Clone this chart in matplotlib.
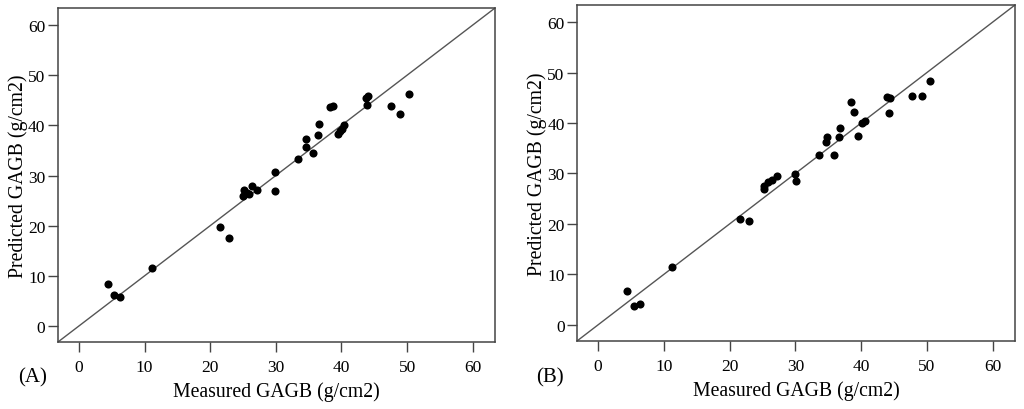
import matplotlib
matplotlib.use("Agg")
import matplotlib.pyplot as plt

# Panel A data
measured_a = [4.4, 5.4, 6.3, 11.2, 21.5, 22.8, 25.05, 25.2, 25.6, 25.9, 26.3, 27.1,
              29.85, 29.95, 33.45, 34.55, 34.65, 35.7, 36.4, 36.55, 38.2, 38.7,
              39.45, 39.8, 40.05, 40.45, 43.75, 43.95, 44.05, 47.5, 48.85, 50.3]
predicted_a = [8.4, 6.1, 5.7, 11.6, 19.8, 17.6, 25.95, 27.1, 26.6, 26.4, 28.0, 27.15,
               30.75, 27.0, 33.3, 35.6, 37.3, 34.45, 38.1, 40.3, 43.75, 43.9,
               38.25, 38.9, 39.3, 40.0, 45.5, 44.1, 45.95, 43.9, 42.3, 46.25]

# Panel B data
measured_b = [4.4, 5.4, 6.4, 11.2, 21.6, 22.9, 25.2, 25.3, 25.9, 26.4, 27.2,
              30.0, 30.1, 33.6, 34.6, 34.8, 35.9, 36.6, 36.75, 38.4, 38.9,
              39.6, 40.1, 40.65, 43.95, 44.4, 44.25, 47.8, 49.2, 50.5]
predicted_b = [6.7, 3.7, 4.05, 11.5, 20.9, 20.6, 27.55, 26.9, 28.35, 28.75, 29.55,
               29.95, 28.5, 33.7, 36.3, 37.2, 33.6, 37.2, 39.05, 44.2, 42.1,
               37.35, 40.1, 40.4, 45.15, 45.05, 42.0, 45.45, 45.45, 48.3]

ticks = [0, 10, 20, 30, 40, 50, 60]
panel_labels = ["(A)", "(B)"]
xlabel = "Measured GAGB (g/cm2)"
ylabel = "Predicted GAGB (g/cm2)"

plt.rcParams['font.family'] = ['Liberation Serif', 'DejaVu Serif']

fig = plt.figure(figsize=(10.24, 4.10), dpi=100)
rects = [[0.0566, 0.1634, 0.4268, 0.8146], [0.5635, 0.1659, 0.4277, 0.8195]]
data = [(measured_a, predicted_a), (measured_b, predicted_b)]
lims = (-3.2, 63.4)
label_x = [0.018, 0.524]

for i, (rect, (mx, py)) in enumerate(zip(rects, data)):
    ax = fig.add_axes(rect)
    ax.plot(lims, lims, color='#555555', lw=1.0, zorder=1)
    ax.scatter(mx, py, s=34, color='black', zorder=2, linewidths=0)
    ax.set_xlim(lims)
    ax.set_ylim(lims)
    ax.set_xticks(ticks)
    ax.set_yticks(ticks)
    ax.tick_params(direction='out', length=7, width=1.0, color='#444444',
                   labelsize=12.5)
    ax.tick_params(axis='x', pad=5)
    ax.tick_params(axis='y', pad=2)
    for s in ax.spines.values():
        s.set_color('#444444')
        s.set_linewidth(1.1)
    ax.set_xlabel(xlabel, fontsize=14.2, labelpad=5)
    ax.set_ylabel(ylabel, fontsize=14.2, labelpad=0)
    fig.text(label_x[i], 0.078, panel_labels[i], fontsize=15, va='center', ha='left')

fig.savefig("out.png", dpi=100)
